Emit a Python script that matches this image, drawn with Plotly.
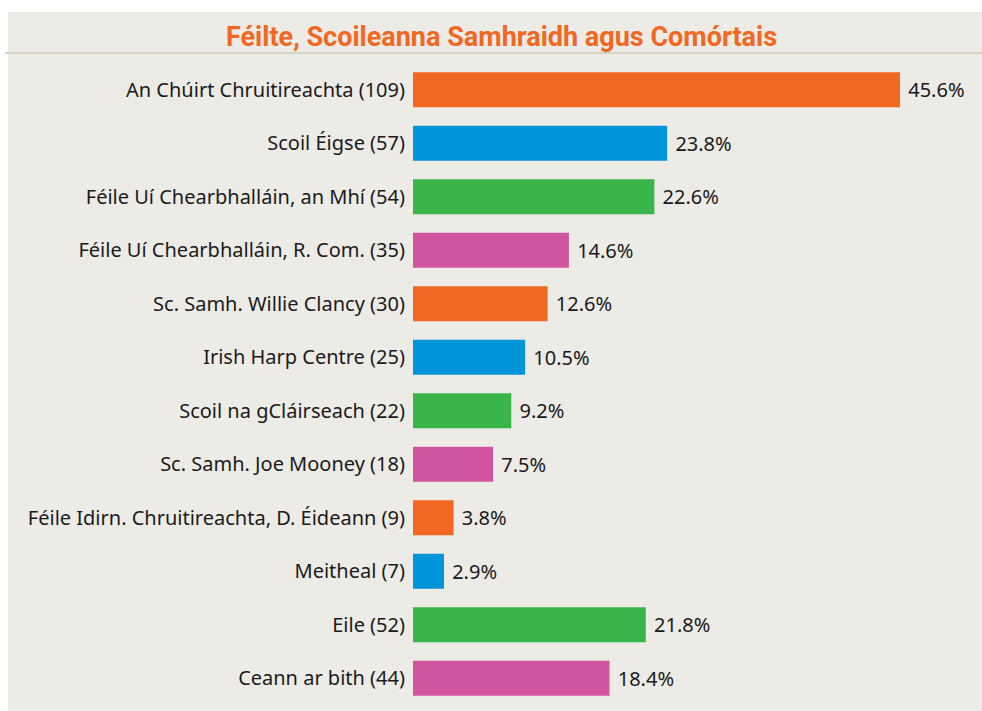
import plotly.graph_objects as go

categories = [
    "An Chúirt Chruitireachta (109)",
    "Scoil Éigse (57)",
    "Féile Uí Chearbhalláin, an Mhí (54)",
    "Féile Uí Chearbhalláin, R. Com. (35)",
    "Sc. Samh. Willie Clancy (30)",
    "Irish Harp Centre (25)",
    "Scoil na gCláirseach (22)",
    "Sc. Samh. Joe Mooney (18)",
    "Féile Idirn. Chruitireachta, D. Éideann (9)",
    "Meitheal (7)",
    "Eile (52)",
    "Ceann ar bith (44)",
]
percentages = [45.6, 23.8, 22.6, 14.6, 12.6, 10.5, 9.2, 7.5, 3.8, 2.9, 21.8, 18.4]
palette = ["#f26722", "#0095d9", "#3ab54a", "#d1549e"]
title = "Féilte, Scoileanna Samhraidh agus Comórtais"

W, H = 982, 711
LEFT, TOP, BOTTOM = 413, 63, 6
PANEL = "#edebe6"

colors = [palette[i % 4] for i in range(len(categories))]

fig = go.Figure(
    go.Bar(
        x=percentages,
        y=categories,
        orientation="h",
        marker=dict(color=colors, line=dict(width=0)),
        width=0.65,
        text=[f" {v:.1f}%" for v in percentages],
        textposition="outside",
        textfont=dict(size=20, color="#1a1a1a"),
        cliponaxis=False,
        hoverinfo="skip",
    )
)

plot_w = W - LEFT
plot_h = H - TOP - BOTTOM


def px_x(p):
    return (p - LEFT) / plot_w


def px_y(p):
    return (H - BOTTOM - p) / plot_h


fig.update_layout(
    width=W,
    height=H,
    margin=dict(l=LEFT, r=0, t=TOP, b=BOTTOM),
    paper_bgcolor="white",
    plot_bgcolor=PANEL,
    font=dict(family="Noto Sans, Open Sans, sans-serif", size=20, color="#1a1a1a"),
    showlegend=False,
    shapes=[
        dict(type="rect", xref="paper", yref="paper", layer="below",
             x0=px_x(8), x1=px_x(W), y0=px_y(H), y1=px_y(12),
             fillcolor=PANEL, line=dict(width=0)),
        dict(type="line", xref="paper", yref="paper",
             x0=px_x(5), x1=px_x(W), y0=px_y(53), y1=px_y(53),
             line=dict(color="#d8d3c7", width=2)),
    ],
    annotations=[
        dict(text=f"<b>{title}</b>", xref="paper", yref="paper",
             x=px_x(501), y=px_y(37), xanchor="center", yanchor="middle",
             showarrow=False,
             font=dict(family="Roboto, sans-serif", size=27, color="#f26722")),
    ],
)

fig.update_xaxes(range=[0, plot_w / (487 / 45.6)], visible=False, fixedrange=True)
fig.update_yaxes(
    autorange="reversed",
    showgrid=False,
    zeroline=False,
    showline=False,
    ticks="outside",
    ticklen=3,
    tickcolor="rgba(0,0,0,0)",
    tickfont=dict(size=20, color="#1a1a1a"),
    fixedrange=True,
)

fig.write_html(
    "out.html",
    config={"displayModeBar": False},
    post_script="document.body.style.margin='0';"
    "document.body.style.overflow='hidden';",
)
